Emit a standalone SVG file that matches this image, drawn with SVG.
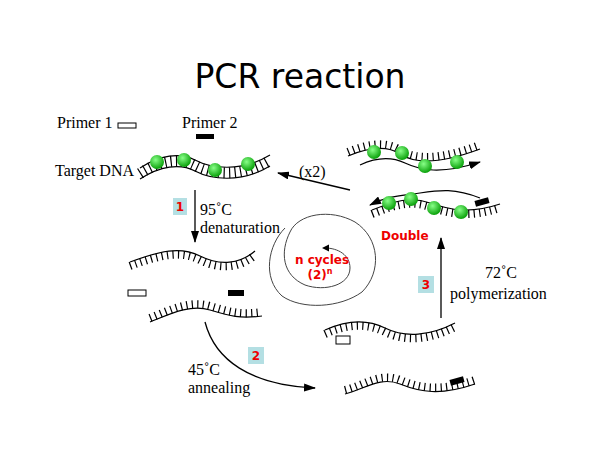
<svg xmlns="http://www.w3.org/2000/svg" width="600" height="464" viewBox="0 0 600 464">
<defs>
<style>
.s{font-family:"Liberation Serif",serif;font-size:16px;fill:#000}
.r{font-family:"DejaVu Sans",sans-serif;font-size:12px;font-weight:bold;fill:#e00}
.bb{fill:none;stroke:#000;stroke-width:1.2}
.tk{fill:none;stroke:#000;stroke-width:8;stroke-dasharray:1.2 4.3}
.box{fill:#b4dfe3}
.ln{fill:none;stroke:#000;stroke-width:1.3}
.sp{fill:none;stroke:#444;stroke-width:1}
</style>
<marker id="a" markerWidth="12" markerHeight="8" refX="11" refY="4" orient="auto" markerUnits="userSpaceOnUse"><path d="M0,0L12,4L0,8z"/></marker>
<radialGradient id="gg" cx="0.4" cy="0.35" r="0.7"><stop offset="0" stop-color="#8f8"/><stop offset="1" stop-color="#090"/></radialGradient>
</defs>
<rect width="600" height="464" fill="#fff"/>
<text x="300" y="88" text-anchor="middle" font-family="DejaVu Sans,sans-serif" font-size="33">PCR reaction</text>
<text class="s" x="57" y="128">Primer 1</text>
<rect x="118" y="123" width="18" height="5" fill="#fff" stroke="#000"/>
<text class="s" x="182" y="128">Primer 2</text>
<rect x="196" y="134" width="18" height="5" fill="#000"/>
<text class="s" x="55" y="176">Target DNA</text>
<g id="target">
<path class="tk" style="stroke-width:11" d="M140,173.5C160,160.5 180,157.5 195,165.5S240,178.5 270,160.5"/>
<path class="bb" d="M140,168C160,155 180,152 195,160S240,173 270,155"/>
<path class="bb" d="M140,179C160,166 180,163 195,171S240,184 270,166"/>
<circle fill="url(#gg)" cx="157" cy="162" r="7"/><circle fill="url(#gg)" cx="184" cy="160" r="7"/>
<circle fill="url(#gg)" cx="215" cy="170" r="7"/><circle fill="url(#gg)" cx="248" cy="164" r="7"/>
</g>
<g id="connectors">
<line class="ln" x1="195" y1="190" x2="195" y2="242" marker-end="url(#a)"/>
<path class="ln" d="M205,322C215,360 250,385 315,388" marker-end="url(#a)"/>
<line class="ln" x1="441" y1="318" x2="441" y2="238" marker-end="url(#a)"/>
<line class="ln" x1="350" y1="190" x2="278" y2="173" marker-end="url(#a)"/>
</g>
<rect class="box" x="173" y="198" width="14" height="17"/><text class="r" x="180" y="211" text-anchor="middle">1</text>
<text class="s" x="200" y="215">95˚C</text><text class="s" x="200" y="233">denaturation</text>
<g id="single1"><path class="tk" d="M130,266C160,255 180,250 200,260S240,268 255,255"/><path class="bb" d="M130,262C160,251 180,246 200,256S240,264 255,251"/></g>
<rect x="128" y="290" width="18" height="6" fill="#fff" stroke="#000"/>
<rect x="228" y="290" width="16" height="6" fill="#000"/>
<g id="single2"><path class="tk" d="M150,318C170,310 190,300 210,306S240,315 262,312"/><path class="bb" d="M150,322C170,314 190,304 210,310S240,319 262,316"/></g>
<rect class="box" x="248" y="347" width="16" height="17"/><text class="r" x="256" y="360" text-anchor="middle">2</text>
<text class="s" x="188" y="375">45˚C</text><text class="s" x="188" y="393">annealing</text>
<g id="bottomright"><path class="tk" d="M345,390C365,385 380,372 400,380S440,392 475,380"/><path class="bb" d="M345,394C365,389 380,376 400,384S440,396 475,384"/><rect x="450" y="378" width="14" height="6" fill="#000" transform="rotate(-15 457 381)"/></g>
<g id="midright"><path class="tk" d="M325,334C345,325 365,322 385,332S430,340 455,327"/><path class="bb" d="M325,330C345,321 365,318 385,328S430,336 455,323"/><rect x="336" y="336" width="14" height="8" fill="#fff" stroke="#000"/></g>
<rect class="box" x="418" y="276" width="16" height="17"/><text class="r" x="426" y="289" text-anchor="middle">3</text>
<text class="s" x="485" y="278">72˚C</text><text class="s" x="450" y="299">polymerization</text>
<g id="top1">
<path class="tk" d="M348,152C365,145 385,140 400,150S440,160 480,145"/>
<path class="bb" d="M348,156C365,149 385,144 400,154S440,164 480,149"/>
<path class="bb" d="M360,165C375,158 390,156 405,163S440,175 480,162" marker-end="url(#a)"/>
<circle fill="url(#gg)" cx="374" cy="152" r="7"/><circle fill="url(#gg)" cx="402" cy="153" r="7"/>
<circle fill="url(#gg)" cx="425" cy="166" r="7"/><circle fill="url(#gg)" cx="457" cy="162" r="7"/>
</g>
<g id="top2">
<path class="bb" d="M480,198C455,188 440,190 420,193S390,195 370,205" marker-end="url(#a)"/>
<path class="tk" d="M372,214C395,205 410,200 430,207S470,218 500,208"/>
<path class="bb" d="M372,210C395,201 410,196 430,203S470,214 500,204"/>
<rect x="475" y="199" width="14" height="6" fill="#000" transform="rotate(-15 482 202)"/>
<circle fill="url(#gg)" cx="389" cy="203" r="7"/><circle fill="url(#gg)" cx="411" cy="199" r="7"/>
<circle fill="url(#gg)" cx="434" cy="208" r="7"/><circle fill="url(#gg)" cx="461" cy="212" r="7"/>
</g>
<text class="s" x="299" y="177">(x2)</text>
<g id="cycle">
<path class="sp" d="M285,228C268,245 262,278 282,296C302,310 340,308 362,292C382,272 380,238 355,222C330,208 298,214 290,232C280,252 282,275 305,285C325,292 350,285 350,268C350,255 338,248 325,248"/>
<path d="M322,248l7,-3.5v7z" fill="#000"/>
</g>
<text class="r" x="322" y="264" text-anchor="middle">n cycles</text>
<text class="r" x="320" y="279" text-anchor="middle">(2)<tspan font-size="8" dy="-5">n</tspan></text>
<text class="r" x="381" y="240">Double</text>
</svg>
